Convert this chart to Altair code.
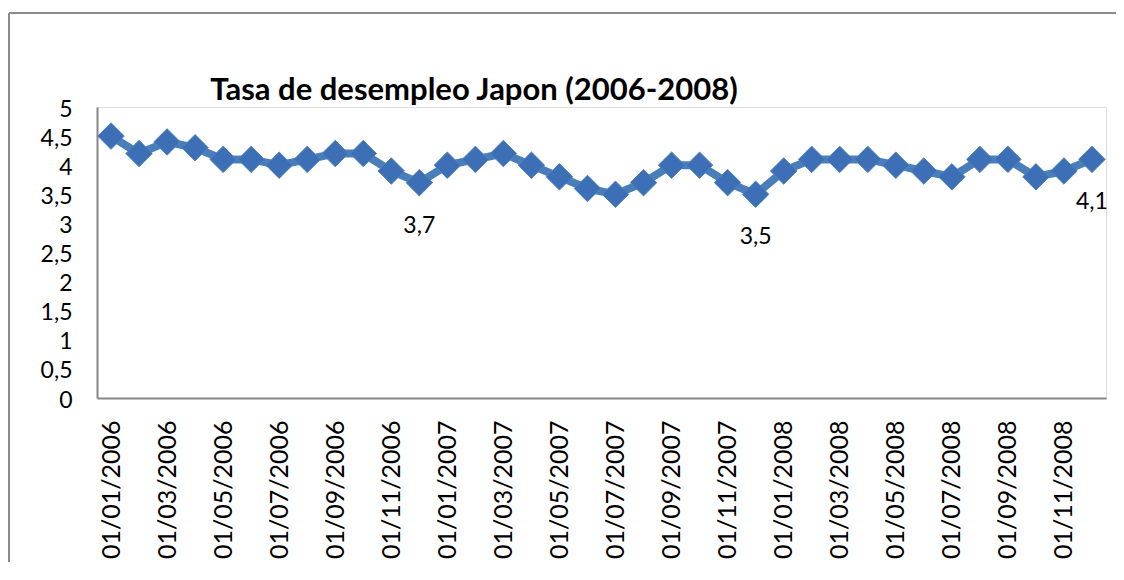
import altair as alt
import pandas as pd

fechas = [
    "01/01/2006", "01/02/2006", "01/03/2006", "01/04/2006", "01/05/2006", "01/06/2006",
    "01/07/2006", "01/08/2006", "01/09/2006", "01/10/2006", "01/11/2006", "01/12/2006",
    "01/01/2007", "01/02/2007", "01/03/2007", "01/04/2007", "01/05/2007", "01/06/2007",
    "01/07/2007", "01/08/2007", "01/09/2007", "01/10/2007", "01/11/2007", "01/12/2007",
    "01/01/2008", "01/02/2008", "01/03/2008", "01/04/2008", "01/05/2008", "01/06/2008",
    "01/07/2008", "01/08/2008", "01/09/2008", "01/10/2008", "01/11/2008", "01/12/2008",
]
tasa = [
    4.5, 4.2, 4.4, 4.3, 4.1, 4.1, 4.0, 4.1, 4.2, 4.2, 3.9, 3.7,
    4.0, 4.1, 4.2, 4.0, 3.8, 3.6, 3.5, 3.7, 4.0, 4.0, 3.7, 3.5,
    3.9, 4.1, 4.1, 4.1, 4.0, 3.9, 3.8, 4.1, 4.1, 3.8, 3.9, 4.1,
]
etiquetas_eje_x = [
    "01/01/2006", "01/03/2006", "01/05/2006", "01/07/2006", "01/09/2006", "01/11/2006",
    "01/01/2007", "01/03/2007", "01/05/2007", "01/07/2007", "01/09/2007", "01/11/2007",
    "01/01/2008", "01/03/2008", "01/05/2008", "01/07/2008", "01/09/2008", "01/11/2008",
]
fechas_con_etiqueta = ["01/12/2006", "01/12/2007", "01/12/2008"]
ticks_y = [0, 0.5, 1, 1.5, 2, 2.5, 3, 3.5, 4, 4.5, 5]
titulo = "Tasa de desempleo Japon (2006-2008)"

df = pd.DataFrame({"fecha": fechas, "tasa": tasa})
df["etiqueta"] = [str(v).replace(".", ",") for v in tasa]

FONT = "Lato"
LINE = "#4A7EBB"
MARK = "#3D6FB6"

x_enc = alt.X(
    "fecha:N",
    sort=fechas,
    title=None,
    scale=alt.Scale(type="point", padding=0.5),
    axis=alt.Axis(
        values=etiquetas_eje_x,
        labelAngle=270,
        labelFont=FONT,
        labelFontSize=25,
        labelColor="#000000",
        labelPadding=22,
        ticks=False,
        domainColor="#868686",
        domainWidth=2,
        grid=False,
    ),
)
y_enc = alt.Y(
    "tasa:Q",
    title=None,
    scale=alt.Scale(domain=[0, 5], nice=False, zero=True),
    axis=alt.Axis(
        values=ticks_y,
        labelExpr="replace(toString(datum.value), '.', ',')",
        labelFont=FONT,
        labelFontSize=23,
        labelColor="#000000",
        labelPadding=25,
        labelOffset=2,
        ticks=False,
        domainColor="#868686",
        domainWidth=2,
        grid=False,
    ),
)

base = alt.Chart(df)
one = alt.Data(values=[{"k": 1}])

frame_top = alt.Chart(one).mark_rule(color="#8c8c8c", strokeWidth=2).encode(
    x=alt.value(-88), x2=alt.value(1019), y=alt.value(-94)
)
frame_left = alt.Chart(one).mark_rule(color="#8c8c8c", strokeWidth=2).encode(
    x=alt.value(-88), y=alt.value(-94), y2=alt.value(460)
)
title_mark = alt.Chart(one).mark_text(
    text=titulo, font=FONT, fontSize=31, fontWeight="bold", color="#000000",
    align="center", baseline="middle",
).encode(x=alt.value(377), y=alt.value(-16))

line = base.mark_line(color=LINE, strokeWidth=8, strokeJoin="round").encode(x=x_enc, y=y_enc)
points = base.mark_point(
    shape="diamond", filled=True, size=700, color=MARK, stroke="#4F81BD", strokeWidth=1, opacity=1
).encode(x=x_enc, y=y_enc)
labels = base.transform_filter(
    alt.FieldOneOfPredicate(field="fecha", oneOf=fechas_con_etiqueta)
).mark_text(font=FONT, fontSize=23, color="#000000", dy=43).encode(
    x=x_enc, y=y_enc, text="etiqueta:N"
)

chart = alt.layer(frame_top, frame_left, title_mark, line, points, labels).properties(
    width=1009,
    height=291,
    padding={"left": 89, "top": 99, "right": 10, "bottom": 164},
    autosize=alt.AutoSizeParams(type="none"),
).configure_view(stroke=None).configure(background="white")

chart.save("out.html", embed_options={"renderer": "svg", "actions": False})
